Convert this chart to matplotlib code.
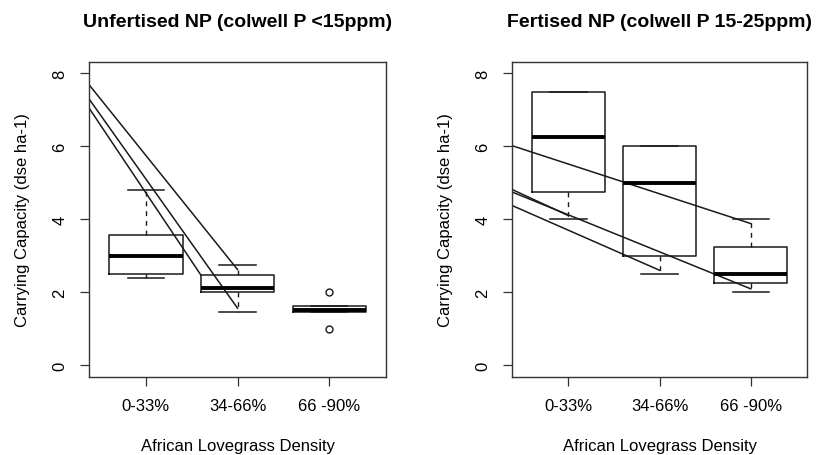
import matplotlib
matplotlib.use('Agg')
import matplotlib.pyplot as plt

plt.rcParams['font.family'] = ['Liberation Sans', 'DejaVu Sans']

categories = ['0-33%', '34-66%', '66 -90%']
titles = ['Unfertised NP (colwell P <15ppm)', 'Fertised NP (colwell P 15-25ppm)']
xlabel = 'African Lovegrass Density'
ylabel = 'Carrying Capacity (dse ha-1)'

# box statistics: q1, median, q3, lower/upper whisker
unfert_q1 = [2.5, 2.0, 1.46]
unfert_med = [3.0, 2.1, 1.5]
unfert_q3 = [3.57, 2.47, 1.63]
unfert_lo = [2.38, 1.45, 1.46]
unfert_hi = [4.8, 2.75, 1.63]
unfert_out = [[], [], [2.0, 1.0]]

fert_q1 = [4.75, 3.0, 2.25]
fert_med = [6.25, 5.0, 2.5]
fert_q3 = [7.5, 6.0, 3.25]
fert_lo = [4.0, 2.5, 2.0]
fert_hi = [7.5, 6.0, 4.0]
fert_out = [[], [], []]

# the straight lines drawn over the boxes (start x, start y, end x, end y)
unfert_lx0 = [0.38, 0.38, 0.38]
unfert_ly0 = [7.69, 7.30, 7.05]
unfert_lx1 = [2.0, 2.0, 1.6]
unfert_ly1 = [2.62, 1.56, 2.47]

fert_lx0 = [0.38, 0.38, 0.38, 0.38]
fert_ly0 = [6.02, 4.82, 4.75, 4.38]
fert_lx1 = [3.0, 1.0, 3.0, 2.0]
fert_ly1 = [3.88, 4.1, 2.09, 2.6]


def draw_panel(ax, title, q1, med, q3, lo, hi, out, lx0, ly0, lx1, ly1):
    stats = []
    for i in range(len(categories)):
        stats.append(dict(q1=q1[i], med=med[i], q3=q3[i], whislo=lo[i],
                          whishi=hi[i], fliers=out[i], label=categories[i]))
    ax.bxp(stats, positions=[1, 2, 3], widths=0.8, capwidths=0.4,
           boxprops=dict(color='#1a1a1a', lw=1.1),
           medianprops=dict(color='black', lw=2.8, solid_capstyle='butt'),
           whiskerprops=dict(color='#1a1a1a', lw=1.0, ls=(0, (3.5, 3.5))),
           capprops=dict(color='#1a1a1a', lw=1.1),
           flierprops=dict(marker='o', mfc='none', mec='#1a1a1a', ms=5,
                           mew=1.0))
    for a, b, c, d in zip(lx0, ly0, lx1, ly1):
        ax.plot([a, c], [b, d], color='#1a1a1a', lw=1.1)

    ax.set_xlim(0.38, 3.62)
    ax.set_ylim(-0.32, 8.32)
    ax.set_yticks([0, 2, 4, 6, 8])
    ax.tick_params(axis='both', direction='out', length=6.5, width=0.9,
                   labelsize=12, color='#333333')
    ax.tick_params(axis='x', pad=9)
    ax.tick_params(axis='y', labelrotation=90, pad=9)
    for lab in ax.get_yticklabels():
        lab.set_va('center')
    for s in ax.spines.values():
        s.set_linewidth(1.0)
        s.set_color('#333333')
    ax.set_title(title, fontsize=14, fontweight='bold', pad=26)
    ax.set_xlabel(xlabel, fontsize=12)
    ax.set_ylabel(ylabel, fontsize=12)
    ax.xaxis.set_label_coords(0.5, -0.195)
    ax.yaxis.set_label_coords(-0.2, 0.5)


fig = plt.figure(figsize=(8.19, 4.56), dpi=100)
ax1 = fig.add_axes([0.1087, 0.1717, 0.3626, 0.6908])
ax2 = fig.add_axes([0.6248, 0.1717, 0.3610, 0.6908])

draw_panel(ax1, titles[0], unfert_q1, unfert_med, unfert_q3, unfert_lo,
           unfert_hi, unfert_out, unfert_lx0, unfert_ly0, unfert_lx1,
           unfert_ly1)
draw_panel(ax2, titles[1], fert_q1, fert_med, fert_q3, fert_lo,
           fert_hi, fert_out, fert_lx0, fert_ly0, fert_lx1, fert_ly1)

fig.savefig('out.png', dpi=100)
